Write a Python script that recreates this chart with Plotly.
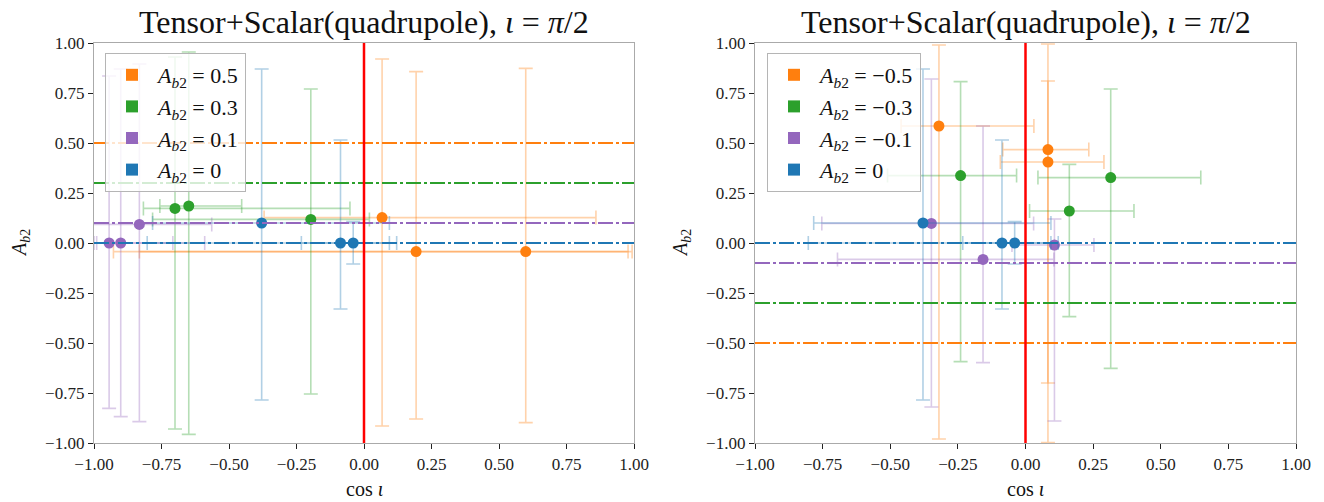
import plotly.graph_objects as go

# ---------------- data ----------------
COLORS = {"orange": "#ff7f0e", "green": "#2ca02c", "purple": "#9467bd", "blue": "#1f77b4"}
ERR_ALPHA = {"orange": "rgba(255,127,14,0.35)", "green": "rgba(44,160,44,0.35)",
             "purple": "rgba(148,103,189,0.35)", "blue": "rgba(31,119,180,0.35)"}

# Left panel (positive A_b2)
L_orange_x = [0.067, 0.193, 0.599]
L_orange_y = [0.127, -0.043, -0.043]
L_orange_yhi = [0.92, 0.857, 0.873]
L_orange_ylo = [-0.915, -0.88, -0.898]
L_orange_xlo = [-0.37, -0.928, -0.832]
L_orange_xhi = [0.859, 0.978, 0.993]

L_green_x = [-0.70, -0.649, -0.197]
L_green_y = [0.173, 0.185, 0.118]
L_green_yhi = [0.93, 0.955, 0.77]
L_green_ylo = [-0.93, -0.957, -0.755]
L_green_xlo = [-0.817, -0.756, -0.783]
L_green_xhi = [-0.052, -0.453, 0.02]

L_purple_x = [-0.944, -0.901, -0.832]
L_purple_y = [0.0, 0.0, 0.093]
L_purple_yhi = [0.835, 0.87, 0.895]
L_purple_ylo = [-0.827, -0.868, -0.893]
L_purple_xlo = [-1.0, -0.99, -1.05]
L_purple_xhi = [-0.708, -0.59, -0.564]

blue_x = [-0.379, -0.087, -0.04]
blue_y = [0.1, 0.0, 0.0]
blue_yhi = [0.87, 0.515, 0.107]
blue_ylo = [-0.785, -0.33, -0.105]
blue_xlo = [-0.783, -0.803, -0.232]
blue_xhi = [0.094, 0.094, 0.121]

# Right panel (negative A_b2)
R_orange_x = [-0.32, 0.083, 0.083]
R_orange_y = [0.585, 0.467, 0.405]
R_orange_yhi = [0.99, 0.81, 0.995]
R_orange_ylo = [-0.98, -0.998, -0.70]
R_orange_xlo = [-0.46, -0.084, -0.093]
R_orange_xhi = [0.031, 0.234, 0.29]

R_green_x = [-0.24, 0.315, 0.162]
R_green_y = [0.337, 0.327, 0.16]
R_green_yhi = [0.807, 0.77, 0.393]
R_green_ylo = [-0.593, -0.627, -0.368]
R_green_xlo = [-0.51, 0.046, 0.015]
R_green_xhi = [-0.033, 0.648, 0.401]

R_purple_x = [-0.348, -0.157, 0.107]
R_purple_y = [0.098, -0.082, -0.01]
R_purple_yhi = [0.82, 0.585, 0.12]
R_purple_ylo = [-0.82, -0.598, -0.89]
R_purple_xlo = [-0.753, -0.695, -0.05]
R_purple_xhi = [0.03, 0.105, 0.253]

L_levels = [0.5, 0.3, 0.1, 0.0]
R_levels = [-0.5, -0.3, -0.1, 0.0]
L_labels = ["0.5", "0.3", "0.1", "0"]
R_labels = ["\u22120.5", "\u22120.3", "\u22120.1", "0"]
series_colors = ["orange", "green", "purple", "blue"]

tick_vals = [-1.0, -0.75, -0.5, -0.25, 0.0, 0.25, 0.5, 0.75, 1.0]
tick_text = ["\u22121.00", "\u22120.75", "\u22120.50", "\u22120.25", "0.00", "0.25", "0.50", "0.75", "1.00"]

TITLE = "Tensor+Scalar(quadrupole), <i>\u03b9</i> = <i>\u03c0</i>/2"
FONT = "Liberation Serif"

# ---------------- figure ----------------
W, H = 1324, 502
fig = go.Figure()

def px_x(p):
    return p / W

def px_y(p):
    return 1 - p / H

dom_l = [px_x(94), px_x(634)]
dom_r = [px_x(755), px_x(1296)]
dom_y = [px_y(443), px_y(43)]


def add_err(color, x, y, xlo, xhi, ylo, yhi, xa, ya):
    fig.add_trace(go.Scatter(
        x=x, y=y, mode="markers", xaxis=xa, yaxis=ya, showlegend=False, hoverinfo="skip",
        marker=dict(color=COLORS[color], size=11, line=dict(width=0)),
        error_x=dict(type="data", symmetric=False,
                     array=[h - v for h, v in zip(xhi, x)],
                     arrayminus=[v - l for l, v in zip(xlo, x)],
                     color=ERR_ALPHA[color], thickness=1.6, width=7),
        error_y=dict(type="data", symmetric=False,
                     array=[h - v for h, v in zip(yhi, y)],
                     arrayminus=[v - l for l, v in zip(ylo, y)],
                     color=ERR_ALPHA[color], thickness=1.6, width=7),
    ))


# left panel series
add_err("orange", L_orange_x, L_orange_y, L_orange_xlo, L_orange_xhi, L_orange_ylo, L_orange_yhi, "x", "y")
add_err("green", L_green_x, L_green_y, L_green_xlo, L_green_xhi, L_green_ylo, L_green_yhi, "x", "y")
add_err("purple", L_purple_x, L_purple_y, L_purple_xlo, L_purple_xhi, L_purple_ylo, L_purple_yhi, "x", "y")
add_err("blue", blue_x, blue_y, blue_xlo, blue_xhi, blue_ylo, blue_yhi, "x", "y")

# right panel series
add_err("orange", R_orange_x, R_orange_y, R_orange_xlo, R_orange_xhi, R_orange_ylo, R_orange_yhi, "x2", "y2")
add_err("green", R_green_x, R_green_y, R_green_xlo, R_green_xhi, R_green_ylo, R_green_yhi, "x2", "y2")
add_err("purple", R_purple_x, R_purple_y, R_purple_xlo, R_purple_xhi, R_purple_ylo, R_purple_yhi, "x2", "y2")
add_err("blue", blue_x, blue_y, blue_xlo, blue_xhi, blue_ylo, blue_yhi, "x2", "y2")

# reference lines (dash-dot) and red vertical line
for levels, xa, ya, dom in [(L_levels, "x", "y", dom_l), (R_levels, "x2", "y2", dom_r)]:
    for lev, c in zip(levels, series_colors):
        fig.add_shape(type="line", xref="paper", yref=ya, x0=dom[0], x1=dom[1],
                      y0=lev, y1=lev,
                      line=dict(color=COLORS[c], width=2.2, dash="15px,3px,3px,3px"), layer="above")
    fig.add_shape(type="line", xref=xa, yref="paper", x0=0, x1=0, y0=dom_y[0], y1=dom_y[1],
                  line=dict(color="#ff0000", width=2.5), layer="above")

# legend entries (square markers)
for labels, leg in [(L_labels, "legend"), (R_labels, "legend2")]:
    for lab, c in zip(labels, series_colors):
        fig.add_trace(go.Scatter(
            x=[None], y=[None], mode="markers", legend=leg, showlegend=True,
            xaxis="x" if leg == "legend" else "x2", yaxis="y" if leg == "legend" else "y2",
            marker=dict(symbol="square", size=10, color=COLORS[c]),
            name="<i>A</i><sub><i>b</i>2</sub> = " + lab,
        ))

axis_common = dict(range=[-1, 1], tickvals=tick_vals, ticktext=tick_text, showgrid=False,
                   zeroline=False, showline=True, linecolor="#aaaaaa", linewidth=1.3, mirror=True,
                   ticks="outside", ticklen=5, tickwidth=1.2, tickcolor="#222222", automargin=False,
                   tickfont=dict(family=FONT, size=17, color="#222222"))

legend_common = dict(bgcolor="rgba(255,255,255,0.8)", bordercolor="#b5b5b5", borderwidth=1,
                     font=dict(family=FONT, size=22, color="#111111"), xanchor="left", yanchor="top",
                     tracegroupgap=0, itemsizing="constant", traceorder="normal", itemwidth=42)

fig.update_layout(
    width=W, height=H, margin=dict(l=0, r=0, t=0, b=0, autoexpand=False),
    paper_bgcolor="white", plot_bgcolor="white",
    xaxis=dict(domain=dom_l, anchor="y", **axis_common),
    yaxis=dict(domain=dom_y, anchor="x", **axis_common),
    xaxis2=dict(domain=dom_r, anchor="y2", **axis_common),
    yaxis2=dict(domain=dom_y, anchor="x2", **axis_common),
    legend=dict(x=px_x(105), y=px_y(53), **legend_common),
    legend2=dict(x=px_x(767), y=px_y(53), **legend_common),
    font=dict(family=FONT),
)

# titles and axis labels as annotations
for cx in [(94 + 634) / 2, (755 + 1296) / 2]:
    fig.add_annotation(x=px_x(cx), y=px_y(22), xref="paper", yref="paper", text=TITLE,
                       showarrow=False, font=dict(family=FONT, size=32, color="#111111"),
                       xanchor="center", yanchor="middle")
    fig.add_annotation(x=px_x(cx), y=px_y(489), xref="paper", yref="paper", text="cos <i>\u03b9</i>",
                       showarrow=False, font=dict(family=FONT, size=20, color="#111111"),
                       xanchor="center", yanchor="middle")
for lx in [20, 681]:
    fig.add_annotation(x=px_x(lx), y=px_y(243), xref="paper", yref="paper",
                       text="<i>A</i><sub><i>b</i>2</sub>", textangle=-90,
                       showarrow=False, font=dict(family=FONT, size=20, color="#111111"),
                       xanchor="center", yanchor="middle")

fig.write_html("out.html", config={"displayModeBar": False},
               post_script="document.body.style.margin='0';document.body.style.overflow='hidden';")
